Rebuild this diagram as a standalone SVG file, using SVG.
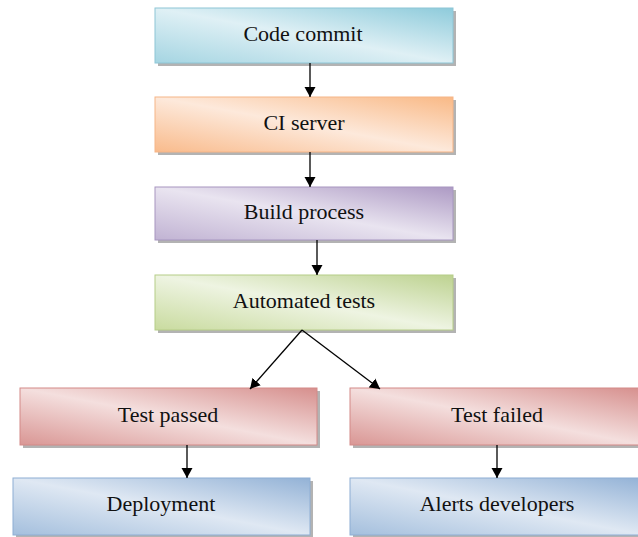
<svg xmlns="http://www.w3.org/2000/svg" width="638" height="537" viewBox="0 0 638 537">
<style>
.sh{fill:#a0a0a0;opacity:0.8}
.t{font-family:"Liberation Serif","Times New Roman",serif;font-size:22px;fill:#111;text-anchor:middle}
.c{stroke:#000;stroke-width:1.3;fill:none;marker-end:url(#ah)}
</style>
<defs>
<marker id="ah" viewBox="0 0 10 12" refX="10" refY="6" markerWidth="10" markerHeight="12" markerUnits="userSpaceOnUse" orient="auto"><path d="M0,0.5 L10,6 L0,11.5 z" fill="#000" transform="rotate(0)"/></marker>
<linearGradient id="gc" x1="0" y1="1" x2="1" y2="0"><stop offset="0" stop-color="#a5d5e2"/><stop offset="0.5" stop-color="#dff0f5"/><stop offset="1" stop-color="#8ecbdb"/></linearGradient>
<linearGradient id="go" x1="0" y1="1" x2="1" y2="0"><stop offset="0" stop-color="#f9bb8c"/><stop offset="0.5" stop-color="#fde9db"/><stop offset="1" stop-color="#f9b986"/></linearGradient>
<linearGradient id="gp" x1="0" y1="1" x2="1" y2="0"><stop offset="0" stop-color="#c1b3d3"/><stop offset="0.5" stop-color="#e9e4f0"/><stop offset="1" stop-color="#ad9ac4"/></linearGradient>
<linearGradient id="gg" x1="0" y1="1" x2="1" y2="0"><stop offset="0" stop-color="#c9db9f"/><stop offset="0.5" stop-color="#eef4e2"/><stop offset="1" stop-color="#bdd290"/></linearGradient>
<linearGradient id="gr" x1="0" y1="1" x2="1" y2="0"><stop offset="0" stop-color="#d99694"/><stop offset="0.5" stop-color="#f4dfde"/><stop offset="1" stop-color="#d68f8d"/></linearGradient>
<linearGradient id="gb" x1="0" y1="1" x2="1" y2="0"><stop offset="0" stop-color="#a4bfdd"/><stop offset="0.5" stop-color="#dfe8f3"/><stop offset="1" stop-color="#93b2d6"/></linearGradient>
</defs>
<g id="n1"><rect class="sh" x="158" y="11" width="298" height="55"/><rect x="155" y="8" width="298" height="55" fill="url(#gc)" stroke="#8ec6d6" stroke-width="1"/><text class="t" x="303" y="41">Code commit</text></g>
<g id="n2"><rect class="sh" x="158" y="100" width="298" height="55"/><rect x="155" y="97" width="298" height="55" fill="url(#go)" stroke="#f6b587" stroke-width="1"/><text class="t" x="304" y="130">CI server</text></g>
<g id="n3"><rect class="sh" x="158" y="190" width="298" height="53"/><rect x="155" y="187" width="298" height="53" fill="url(#gp)" stroke="#a796c0" stroke-width="1"/><text class="t" x="304" y="219">Build process</text></g>
<g id="n4"><rect class="sh" x="158" y="278" width="298" height="55"/><rect x="155" y="275" width="298" height="55" fill="url(#gg)" stroke="#b6cd88" stroke-width="1"/><text class="t" x="304" y="308">Automated tests</text></g>
<g id="n5"><rect class="sh" x="23" y="391" width="297" height="57"/><rect x="20" y="388" width="297" height="57" fill="url(#gr)" stroke="#d38a88" stroke-width="1"/><text class="t" x="168" y="422">Test passed</text></g>
<g id="n6"><rect class="sh" x="353" y="391" width="294" height="57"/><rect x="350" y="388" width="294" height="57" fill="url(#gr)" stroke="#d38a88" stroke-width="1"/><text class="t" x="497" y="422">Test failed</text></g>
<g id="n7"><rect class="sh" x="16" y="481" width="297" height="57"/><rect x="13" y="478" width="297" height="57" fill="url(#gb)" stroke="#8eaed4" stroke-width="1"/><text class="t" x="161" y="511">Deployment</text></g>
<g id="n8"><rect class="sh" x="353" y="481" width="294" height="57"/><rect x="350" y="478" width="294" height="57" fill="url(#gb)" stroke="#8eaed4" stroke-width="1"/><text class="t" x="497" y="511">Alerts developers</text></g>
<g id="connectors">
<line class="c" x1="310" y1="63" x2="310" y2="97"/>
<line class="c" x1="310" y1="152" x2="310" y2="187"/>
<line class="c" x1="317" y1="240" x2="317" y2="275"/>
<line class="c" x1="302" y1="330" x2="250" y2="389"/>
<line class="c" x1="302" y1="330" x2="380" y2="389"/>
<line class="c" x1="187" y1="445" x2="187" y2="478"/>
<line class="c" x1="497" y1="445" x2="497" y2="478"/>
</g>
</svg>
